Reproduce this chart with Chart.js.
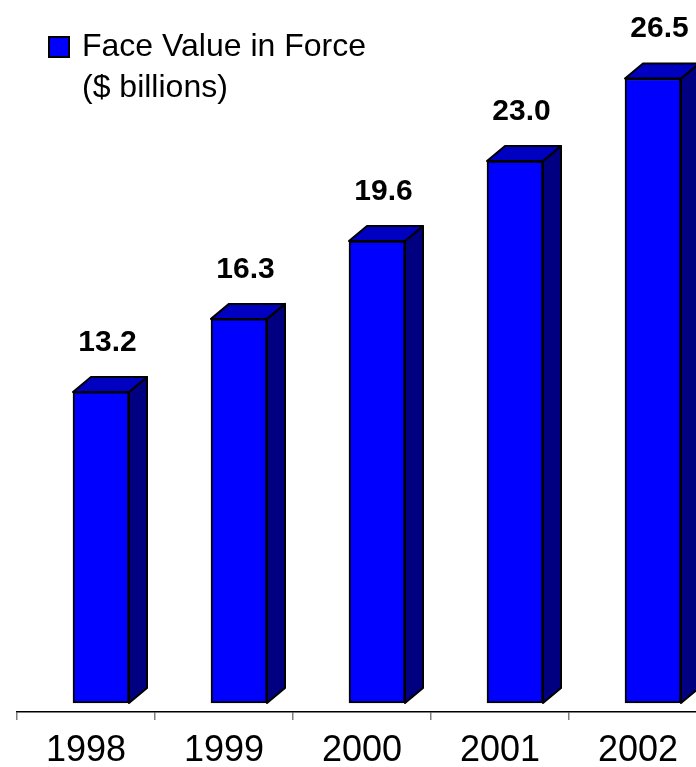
<!DOCTYPE html>
<html>
<head>
<meta charset="utf-8">
<script src="https://cdn.jsdelivr.net/npm/chart.js@4"></script>
<style>
  html, body { margin: 0; padding: 0; background: #fff; overflow: hidden; }
  #wrap { width: 696px; height: 767px; overflow: hidden; }
</style>
</head>
<body>
<div id="wrap"><canvas id="faceChart" width="710" height="767"></canvas></div>
<script>
// Datos del gráfico
const years = ['1998', '1999', '2000', '2001', '2002'];
const faceValues = [13.2, 16.3, 19.6, 23.0, 26.5];
const legendLines = ['Face Value in Force', '($ billions)'];

const FONT = '"Liberation Sans", Arial, sans-serif';
const DEPTH_X = 18;   // profundidad 3D hacia la derecha
const DEPTH_Y = 15;   // profundidad 3D hacia arriba
const SHIFT = 15;     // la cara frontal va desplazada dentro de la categoría

// Barras con efecto 3D: cara lateral y superior
const box3d = {
    id: 'box3d',
    afterDatasetsUpdate(chart) {
        chart.getDatasetMeta(0).data.forEach(bar => { bar.x += SHIFT; });
    },
    afterDatasetsDraw(chart) {
        const ctx = chart.ctx;
        const meta = chart.getDatasetMeta(0);
        ctx.save();
        ctx.lineWidth = 2;
        ctx.strokeStyle = '#000';
        ctx.lineJoin = 'round';
        meta.data.forEach((bar, i) => {
            const left = bar.x - bar.width / 2;
            const right = bar.x + bar.width / 2;
            const top = bar.y;
            const base = bar.base;

            // lateral
            ctx.beginPath();
            ctx.moveTo(right, top);
            ctx.lineTo(right + DEPTH_X, top - DEPTH_Y);
            ctx.lineTo(right + DEPTH_X, base - DEPTH_Y);
            ctx.lineTo(right, base);
            ctx.closePath();
            ctx.fillStyle = '#000080';
            ctx.fill();
            ctx.stroke();

            // tapa
            ctx.beginPath();
            ctx.moveTo(left, top);
            ctx.lineTo(left + DEPTH_X, top - DEPTH_Y);
            ctx.lineTo(right + DEPTH_X, top - DEPTH_Y);
            ctx.lineTo(right, top);
            ctx.closePath();
            ctx.fillStyle = '#0000C0';
            ctx.fill();
            ctx.stroke();

            // etiqueta del valor
            ctx.fillStyle = '#000';
            ctx.font = 'bold 30px ' + FONT;
            ctx.textAlign = 'center';
            ctx.textBaseline = 'alphabetic';
            ctx.fillText(faceValues[i].toFixed(1), bar.x + 6.5, top - DEPTH_Y - 26);
        });
        ctx.restore();
    }
};

// Leyenda en dos líneas arriba a la izquierda
const legendBox = {
    id: 'legendBox',
    afterDraw(chart) {
        const ctx = chart.ctx;
        ctx.save();
        ctx.fillStyle = '#0000FF';
        ctx.fillRect(49, 37, 20, 20);
        ctx.lineWidth = 2;
        ctx.strokeStyle = '#000';
        ctx.strokeRect(49, 37, 20, 20);
        ctx.fillStyle = '#000';
        ctx.font = '32px ' + FONT;
        ctx.textAlign = 'left';
        ctx.textBaseline = 'alphabetic';
        legendLines.forEach((line, i) => {
            ctx.fillText(line, 82, 56 + i * 41);
        });
        ctx.restore();
    }
};

new Chart(document.getElementById('faceChart'), {
    type: 'bar',
    data: {
        labels: years,
        datasets: [{
            label: legendLines.join(' '),
            data: faceValues,
            backgroundColor: '#0000FF',
            borderColor: '#000',
            borderWidth: 2,
            borderSkipped: false,
            barThickness: 56
        }]
    },
    options: {
        responsive: false,
        animation: false,
        layout: { padding: { left: 17, right: 3, top: 0, bottom: 0 } },
        plugins: {
            legend: { display: false },
            tooltip: { enabled: false }
        },
        scales: {
            x: {
                afterFit: (scale) => { scale.height = 55; },
                grid: {
                    drawOnChartArea: false,
                    drawTicks: true,
                    tickLength: 8,
                    color: '#808080',
                    lineWidth: 1.5
                },
                border: { display: true, color: '#000', width: 1.5 },
                ticks: {
                    color: '#000',
                    padding: 9,
                    font: { family: FONT, size: 36 }
                }
            },
            y: {
                display: false,
                min: -0.38,
                max: 29.83
            }
        }
    },
    plugins: [box3d, legendBox]
});
</script>
</body>
</html>
